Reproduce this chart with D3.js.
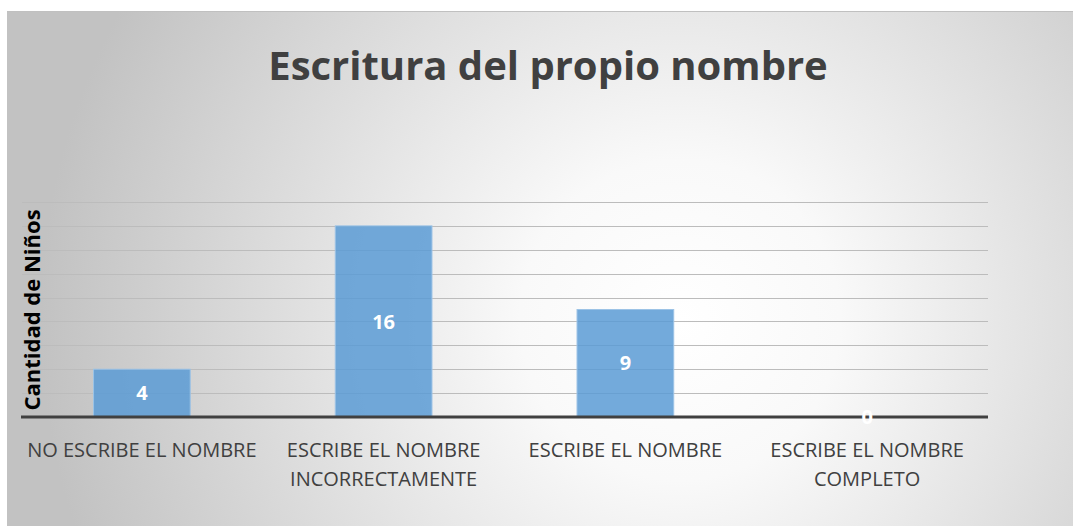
<!DOCTYPE html>
<html>
<head>
<meta charset="utf-8">
<script src="https://cdn.jsdelivr.net/npm/d3@7"></script>
<style>
  html, body { margin: 0; padding: 0; background: #fff; }
  svg { display: block; }
  text { font-family: "Open Sans", "Noto Sans", sans-serif; }
</style>
</head>
<body>
<script>
var categories = [
    ["NO ESCRIBE EL NOMBRE"],
    ["ESCRIBE EL NOMBRE", "INCORRECTAMENTE"],
    ["ESCRIBE EL NOMBRE"],
    ["ESCRIBE EL NOMBRE", "COMPLETO"]
];
var values = [4, 16, 9, 0];
var yTicks = [0, 2, 4, 6, 8, 10, 12, 14, 16, 18];
var title = "Escritura del propio nombre";
var yTitle = "Cantidad de Niños";

var width = 1073, height = 527;
var margin = {left: 21, right: 85, top: 202, bottom: 110};

var svg = d3.select("body").append("svg")
    .attr("width", width)
    .attr("height", height);

var defs = svg.append("defs");
var grad = defs.append("radialGradient")
    .attr("id", "bg")
    .attr("gradientUnits", "userSpaceOnUse")
    .attr("cx", 680).attr("cy", 320).attr("r", 640);
grad.append("stop").attr("offset", "0").attr("stop-color", "#ffffff");
grad.append("stop").attr("offset", "0.25").attr("stop-color", "#f9f9f9");
grad.append("stop").attr("offset", "1").attr("stop-color", "#c2c2c2");

// chart background
svg.append("rect")
    .attr("x", 7).attr("y", 11)
    .attr("width", width - 7).attr("height", 515)
    .attr("fill", "url(#bg)");
svg.append("line")
    .attr("x1", 7).attr("x2", width)
    .attr("y1", 11.5).attr("y2", 11.5)
    .attr("stroke", "#c0c0c0");

var x = d3.scaleBand()
    .domain(d3.range(categories.length))
    .range([margin.left, width - margin.right])
    .paddingInner(0.6)
    .paddingOuter(0.3);

var y = d3.scaleLinear()
    .domain([0, 18])
    .range([height - margin.bottom, margin.top]);

// gridlines
svg.append("g")
    .selectAll("line")
    .data(yTicks.slice(1))
    .join("line")
    .attr("x1", margin.left + 1)
    .attr("x2", width - margin.right)
    .attr("y1", function(d) { return Math.round(y(d)) + 0.5; })
    .attr("y2", function(d) { return Math.round(y(d)) + 0.5; })
    .attr("stroke", "#bcbcbc")
    .attr("stroke-width", 1);

// bars
svg.append("g")
    .selectAll("rect")
    .data(values)
    .join("rect")
    .attr("x", function(d, i) { return x(i); })
    .attr("y", function(d) { return y(d); })
    .attr("width", x.bandwidth())
    .attr("height", function(d) { return y(0) - y(d); })
    .attr("fill", "#5b9bd5")
    .attr("fill-opacity", 0.85)
    .attr("stroke", "#9cc3e6")
    .attr("stroke-width", 1);

// baseline
svg.append("line")
    .attr("x1", margin.left)
    .attr("x2", width - margin.right)
    .attr("y1", y(0))
    .attr("y2", y(0))
    .attr("stroke", "#404040")
    .attr("stroke-width", 3);

// value labels
svg.append("g")
    .selectAll("text")
    .data(values)
    .join("text")
    .attr("x", function(d, i) { return x(i) + x.bandwidth() / 2; })
    .attr("y", function(d) { return (y(d) + y(0)) / 2; })
    .attr("dy", "0.36em")
    .attr("text-anchor", "middle")
    .attr("fill", "#ffffff")
    .attr("font-size", 20)
    .attr("font-weight", "bold")
    .text(function(d) { return d; });

// category labels
var cat = svg.append("g")
    .selectAll("text")
    .data(categories)
    .join("text")
    .attr("x", function(d, i) { return x(i) + x.bandwidth() / 2; })
    .attr("y", 457)
    .attr("text-anchor", "middle")
    .attr("fill", "#404040")
    .attr("font-size", 20);
cat.selectAll("tspan")
    .data(function(d) { return d; })
    .join("tspan")
    .attr("x", function() { return this.parentNode.getAttribute("x"); })
    .attr("dy", function(d, i) { return i ? 29 : 0; })
    .text(function(d) { return d; });

// title
svg.append("text")
    .attr("x", 548)
    .attr("y", 80)
    .attr("text-anchor", "middle")
    .attr("fill", "#404040")
    .attr("font-size", 40)
    .attr("font-weight", "bold")
    .text(title);

// y axis title
svg.append("text")
    .attr("transform", "translate(40," + 310 + ") rotate(-90)")
    .attr("text-anchor", "middle")
    .attr("fill", "#000000")
    .attr("font-size", 22)
    .attr("font-weight", "bold")
    .text(yTitle);
</script>
</body>
</html>
